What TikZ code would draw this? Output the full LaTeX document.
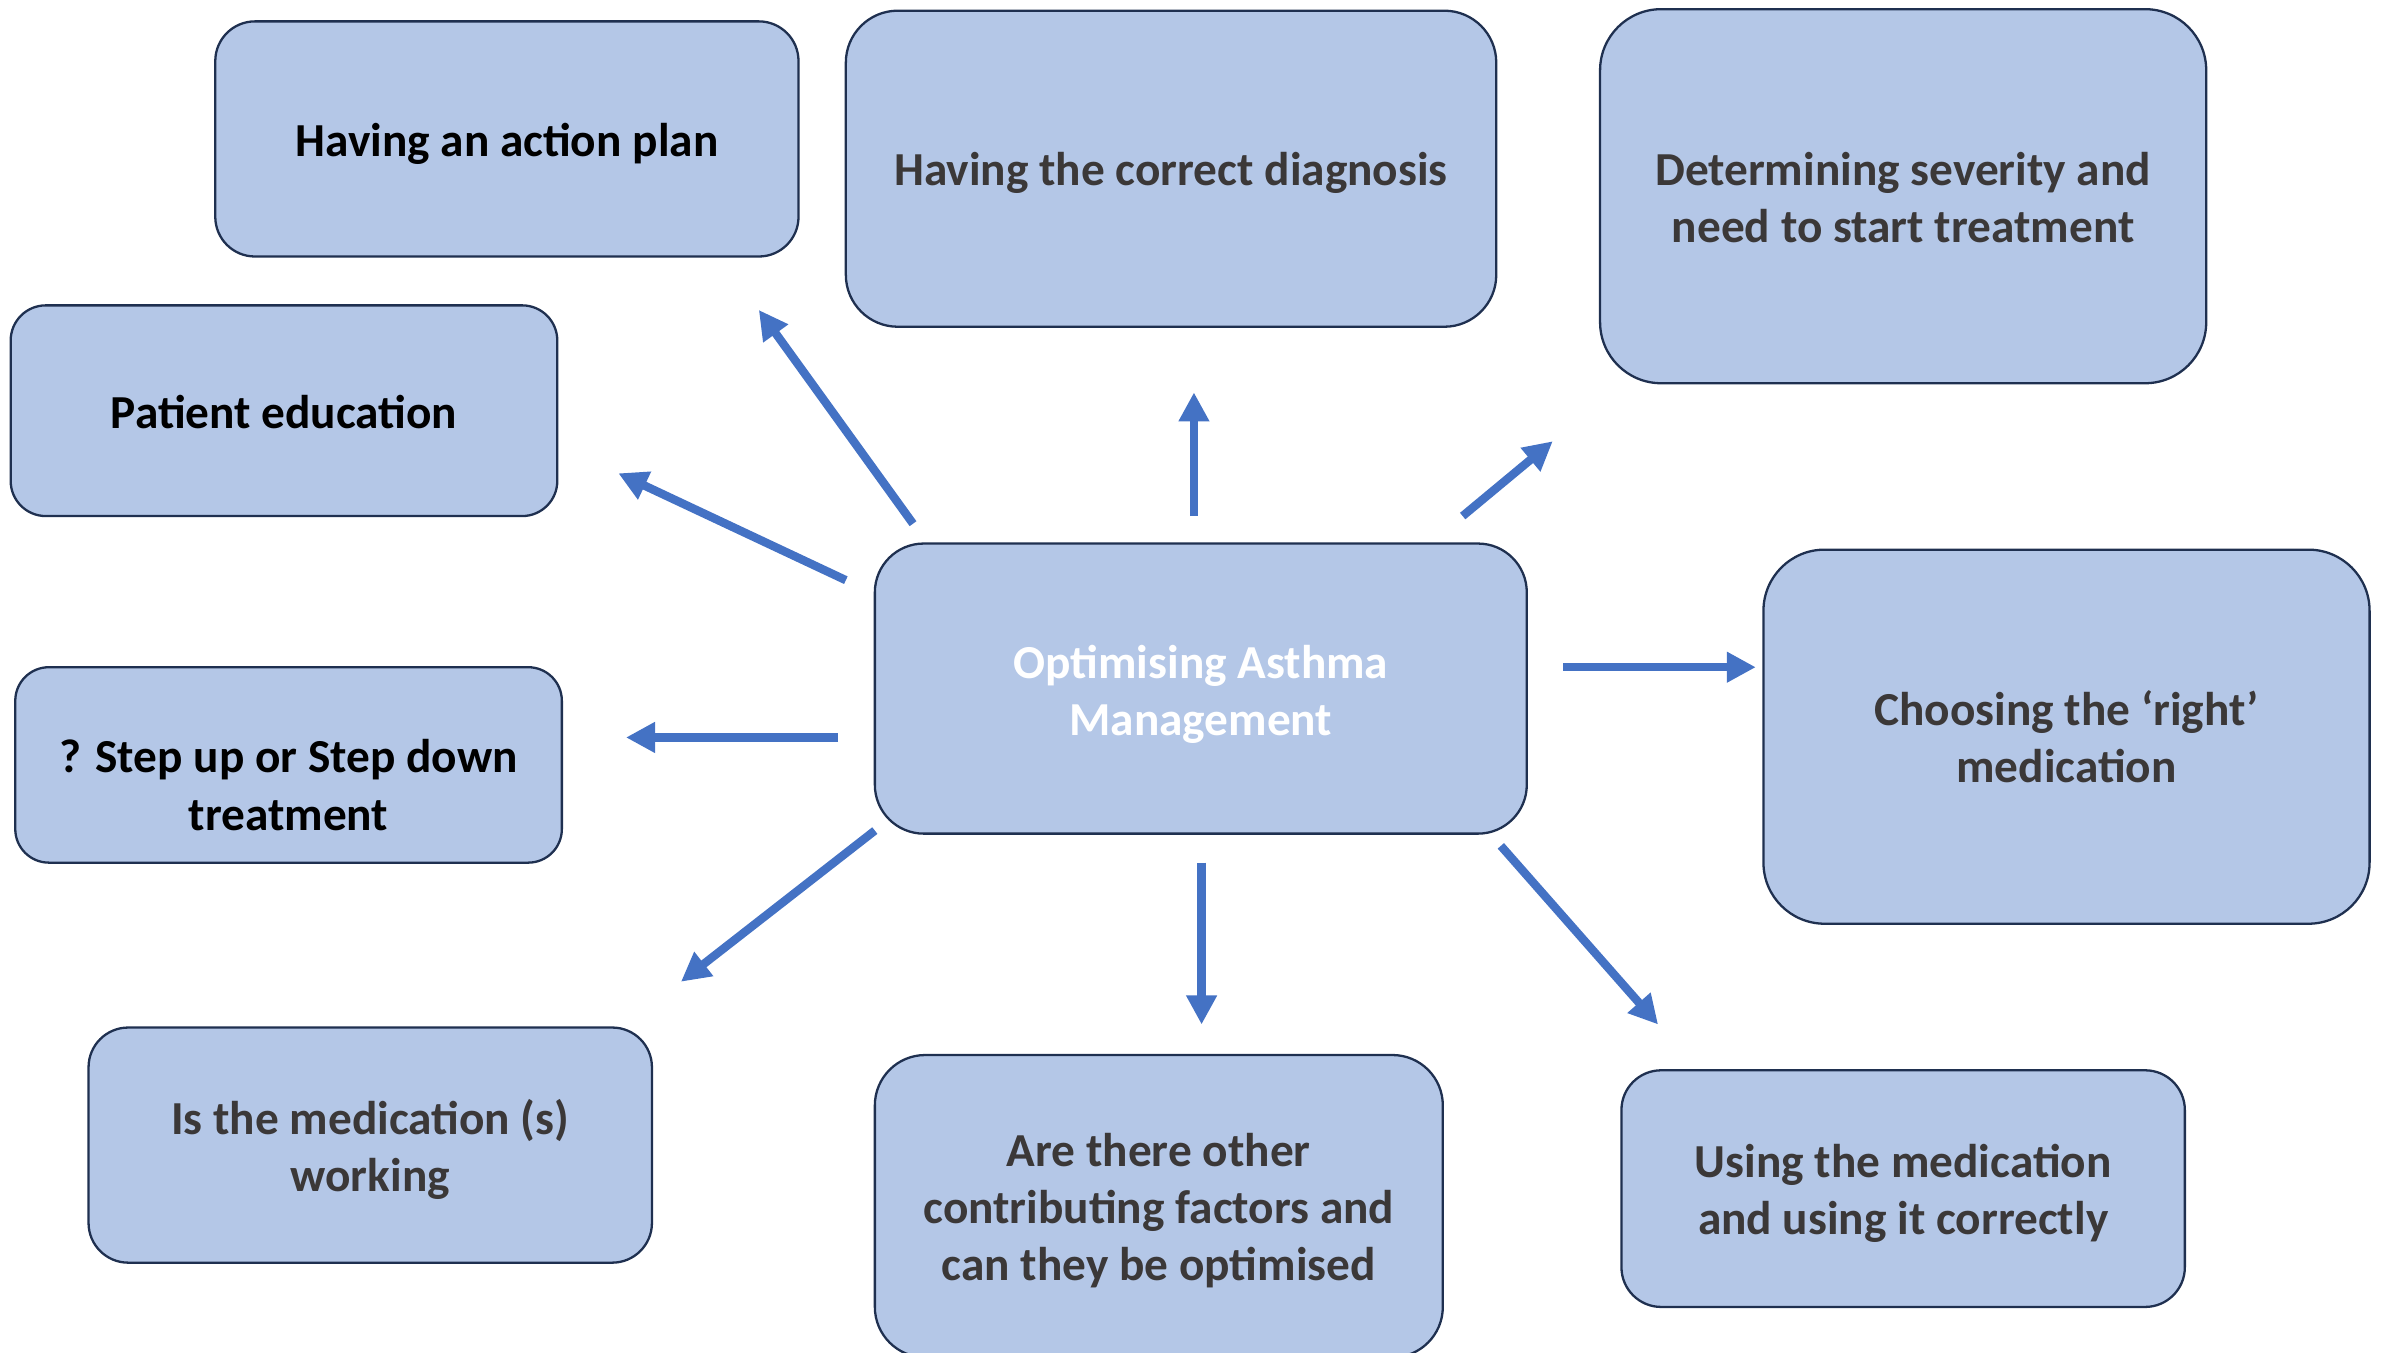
\documentclass[tikz,border=0pt]{standalone}
\usepackage{fontspec}
\setmainfont{Carlito}
\usepackage{tikz}
\usetikzlibrary{arrows.meta}
\definecolor{boxfill}{HTML}{B4C7E7}
\definecolor{boxline}{HTML}{1F3050}
\definecolor{spokeblue}{HTML}{4472C4}
\definecolor{darktext}{HTML}{3B3838}

\begin{document}
\begin{tikzpicture}[
        x=1pt, y=-1pt,
        topic node/.style={
            rectangle,
            rounded corners=#1,
            draw=boxline,
            line width=1.5pt,
            fill=boxfill,
            inner sep=0pt,
            align=center,
            font=\fontsize{31}{37.5}\selectfont\bfseries,
            text=darktext
        },
        topic node/.default=26pt,
        text drop/.style={text height=#1, text depth=0pt},
        spoke/.style={
            -{Triangle[length=19pt, width=19pt]},
            line width=5.5pt,
            spokeblue
        }
    ]
        \useasboundingbox (0,0) rectangle (1568,886);

        % --- CENTRE NODE ---
        \node[topic node=32pt, minimum width=427pt, minimum height=190pt, text=white,
            text drop=61.4pt] (hub) at (786.5,451) {Optimising Asthma\\Management};

        % --- SURROUNDING NODES ---
        \node[topic node, minimum width=382pt, minimum height=154pt, text=black,
            text drop=23.4pt] (plan) at (332,91) {Having an action plan};
        \node[topic node=34pt, minimum width=426pt, minimum height=207pt,
            text drop=22.4pt] (diagnosis) at (767,110.5) {Having the correct diagnosis};
        \node[topic node=40pt, minimum width=397pt, minimum height=245pt,
            text drop=60.4pt] (severity) at (1246.5,128.5) {Determining severity and\\need to start treatment};
        \node[topic node=23pt, minimum width=358pt, minimum height=138pt, text=black,
            text drop=23.4pt] (education) at (186,269) {Patient education};
        \node[topic node=40pt, minimum width=397pt, minimum height=245pt,
            text drop=60.4pt] (choice) at (1353.5,482.5) {Choosing the `right'\\medication};
        \node[topic node=22pt, minimum width=358pt, minimum height=128pt, text=black,
            text drop=85.4pt] (stepping) at (189,501) {? Step up or Step down\\treatment};
        \node[topic node, minimum width=369pt, minimum height=154pt,
            text drop=61.4pt] (working) at (242.5,750) {Is the medication (s)\\working};
        \node[topic node=33pt, minimum width=372pt, minimum height=198pt,
            text drop=97.4pt] (factors) at (759,790) {Are there other\\contributing factors and\\can they be optimised};
        \node[topic node, minimum width=369pt, minimum height=155pt,
            text drop=60.4pt] (usage) at (1246.5,778.5) {Using the medication\\and using it correctly};

        % --- SPOKE END POINTS ---
        \coordinate (plan out) at (598,343);     \coordinate (plan in) at (497,203);
        \coordinate (diag out) at (782,338);     \coordinate (diag in) at (782,257);
        \coordinate (sev out) at (958,338);      \coordinate (sev in) at (1017,289);
        \coordinate (edu out) at (554,380);      \coordinate (edu in) at (405,310);
        \coordinate (choice out) at (1024,437);  \coordinate (choice in) at (1150,437);
        \coordinate (step out) at (549,483);     \coordinate (step in) at (410,483);
        \coordinate (work out) at (573,544);     \coordinate (work in) at (446,643);
        \coordinate (fact out) at (787,565);     \coordinate (fact in) at (787,671);
        \coordinate (use out) at (983,554);      \coordinate (use in) at (1086,671);

        % --- ARROWS ---
        \draw[spoke] (plan out) -- (plan in);
        \draw[spoke] (diag out) -- (diag in);
        \draw[spoke] (sev out) -- (sev in);
        \draw[spoke] (edu out) -- (edu in);
        \draw[spoke] (choice out) -- (choice in);
        \draw[spoke] (step out) -- (step in);
        \draw[spoke] (work out) -- (work in);
        \draw[spoke] (fact out) -- (fact in);
        \draw[spoke] (use out) -- (use in);

    \end{tikzpicture}
\end{document}
